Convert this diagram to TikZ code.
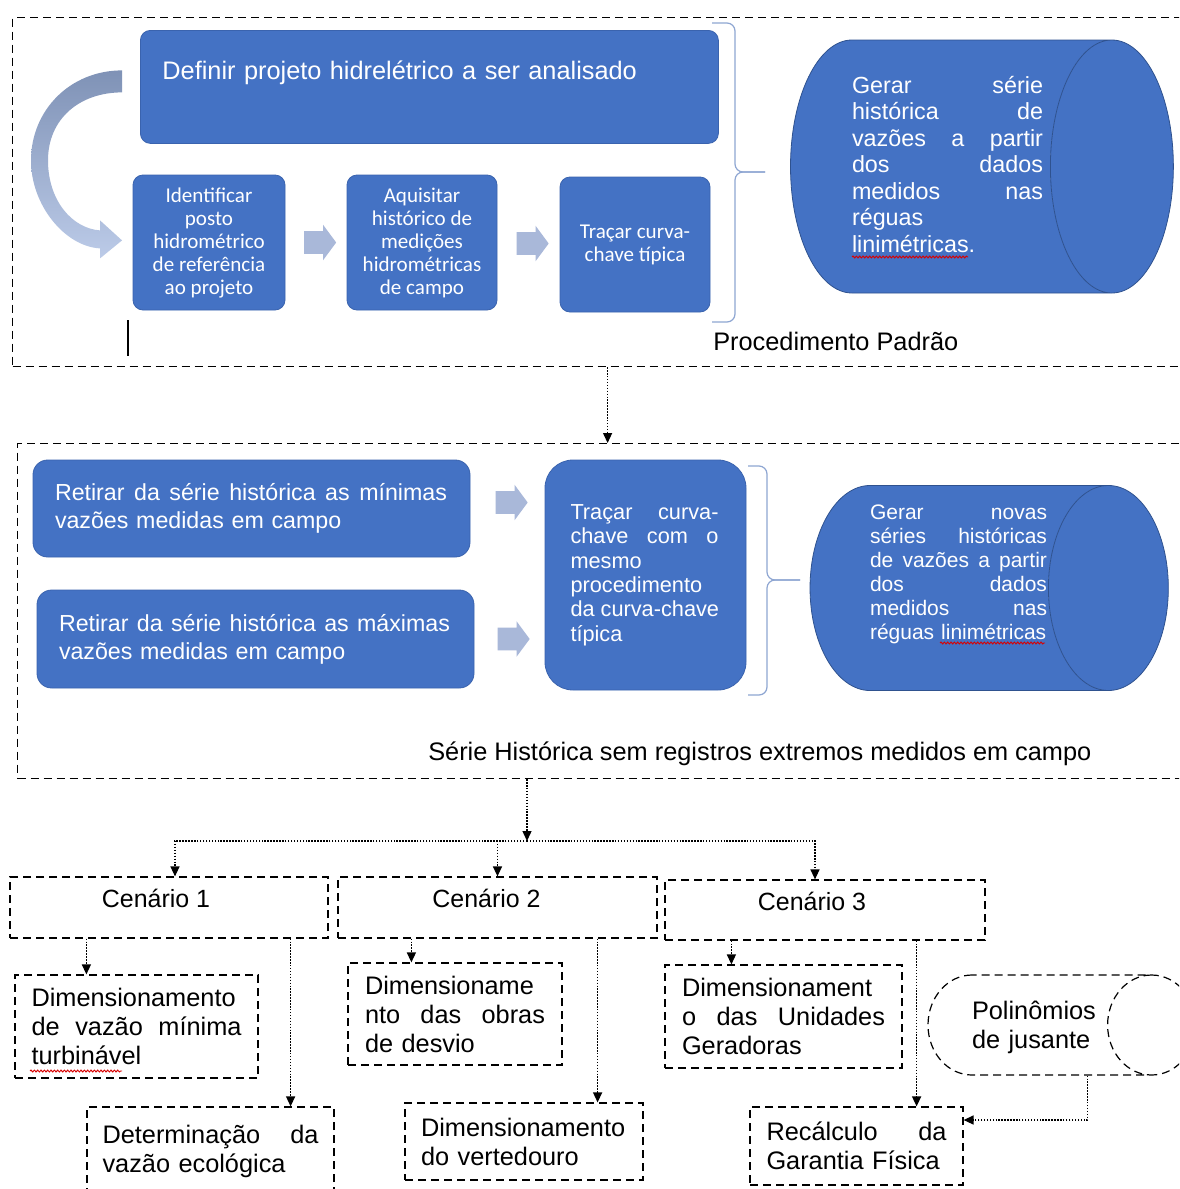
\documentclass[tikz,border=0pt]{standalone}
\usepackage{fontspec}
\setmainfont{Liberation Sans}
\newfontfamily\calibri{Carlito}
\usetikzlibrary{arrows.meta,calc,positioning,shapes.geometric,shapes.arrows,decorations.pathmorphing}
\definecolor{hidroBlue}{HTML}{4472C4}
\definecolor{hidroEdge}{HTML}{3A63AE}
\definecolor{hidroDark}{HTML}{2F528F}
\definecolor{hidroChevron}{HTML}{A9B8D9}
\definecolor{hidroArrowTop}{HTML}{7F92B6}
\definecolor{hidroArrowBot}{HTML}{BCCBE8}
\definecolor{hidroBrace}{HTML}{8EA6D2}
\newdimen\dpx \dpx=0.75pt
% justified line of a given width
\newcommand{\spread}[2]{\leavevmode\hbox to #1{\spaceskip=\fontdimen2\font plus 1fil\relax #2}}
\tikzset{
  flow box/.style={draw=hidroEdge, fill=hidroBlue, text=white,
    rounded corners=7.5pt, inner sep=0pt, line width=0.6pt},
  stage text/.style={font=\calibri\fontsize{15.8}{17.25}\selectfont,
    align=center},
  chevron/.style={single arrow, fill=hidroChevron, draw=none,
    minimum height=24pt, minimum width=24pt, inner xsep=0pt,
    inner ysep=8.25pt, single arrow head extend=4.9pt,
    single arrow tip angle=107},
  series cyl/.style={cylinder, draw=hidroDark, line width=0.6pt,
    cylinder uses custom fill, cylinder body fill=hidroBlue,
    cylinder end fill=hidroBlue, text=white, inner sep=0pt, anchor=text},
  group frame/.style={draw, line width=0.9pt,
    dash pattern=on 6pt off 3.75pt, inner sep=0pt},
  scene box/.style={draw, line width=0.9pt,
    dash pattern=on 6pt off 3.75pt, inner sep=0pt,
    font=\fontsize{19}{21.75}\selectfont},
  scene title/.style={scene box, font=\fontsize{18.7}{21}\selectfont,
    text height=7pt, text depth=7pt},
  link/.style={line width=1pt, dash pattern=on 1.1pt off 1.1pt,
    -{Triangle[length=7.5pt, width=6.75pt]}},
  group brace/.style={draw=hidroBrace, line width=0.9pt,
    rounded corners=6pt},
  group caption/.style={font=\fontsize{19}{22}\selectfont, inner sep=0pt},
  spell mark/.style={draw=red!85!black, line width=0.7pt, decorate,
    decoration={snake, amplitude=0.7pt, segment length=2.5pt}}
}

\begin{document}
\begin{tikzpicture}[x=0.75pt, y=-0.75pt]
  \useasboundingbox (0,0) rectangle (1179,1189);
  \clip (0,0) rectangle (1179,1189);
  \fill[white] (0,0) rectangle (1179,1189);

  % procedimento padrao
  \node[group frame, anchor=north west, minimum width=1190\dpx,
    minimum height=349\dpx] (padrao) at (12,17) {};
  \node[flow box, anchor=north west, text width=534\dpx, inner xsep=22\dpx,
    text height=49\dpx, text depth=64\dpx, align=left,
    font=\fontsize{19}{22}\selectfont] (definir) at (140,30)
    {Definir projeto hidrelétrico a ser analisado};
  \node[flow box, stage text, minimum width=152\dpx, minimum height=135\dpx]
    (ident) at (209,242.5) {Identificar\\posto\\hidrométrico\\de referência\\ao projeto};
  \node[flow box, stage text, minimum width=150\dpx, minimum height=135\dpx]
    (aquis) at (422,242.5) {Aquisitar\\histórico de\\medições\\hidrométricas\\de campo};
  \node[flow box, stage text, minimum width=150\dpx, minimum height=135\dpx]
    (tipica) at (635,244.5) {Traçar curva-\\chave típica};
  \node[chevron] (seta1) at ($(ident.east)!0.5!(aquis.west)$) {};
  \node[chevron] (seta2) at ($(aquis.east)!0.5!(tipica.west)$) {};
  \begin{scope}[shift={($(definir.west)+(-18,-16.5)$)}]
    \shade[top color=hidroArrowTop, bottom color=hidroArrowBot]
      (0,0) .. controls (-52,0) and (-91,40) .. (-91,90)
      .. controls (-91,135) and (-57,176) .. (-22,178)
      -- (-22,188) -- (0,170) -- (-22,150) -- (-22,160)
      .. controls (-50,158) and (-74,130) .. (-74,90)
      .. controls (-74,48) and (-42,22) .. (0,22) -- cycle;
  \end{scope}
  \draw[group brace] (712,23) -- (735,23) -- (735,172) -- (765,172);
  \draw[group brace] (712,322) -- (735,322) -- (735,172) -- (765,172);
  \node[series cyl, aspect=0.486, text width=198\dpx, text height=53\dpx,
    text depth=200\dpx, align=left, font=\fontsize{17.5}{19.9}\selectfont]
    (gerar) at (852,93)
    {\spread{191\dpx}{Gerar série}\\\spread{191\dpx}{histórica de}\\
     \spread{191\dpx}{vazões a partir}\\\spread{191\dpx}{dos dados}\\
     \spread{191\dpx}{medidos nas}\\réguas\\linimétricas.};
  \node[group caption, anchor=base west] (padraoTxt) at (713,350)
    {Procedimento Padrão};
  \draw[line width=0.8pt] (128,320) -- (128,356);

  % serie sem extremos
  \node[group frame, anchor=north west, minimum width=1180\dpx,
    minimum height=335\dpx] (serie) at (17,443) {};
  \draw[link] (padrao.south) -- (serie.north);
  \node[flow box, rounded corners=11pt, minimum height=97\dpx,
    text width=393\dpx, inner xsep=22\dpx, align=left,
    font=\fontsize{17.4}{21}\selectfont] (minimas) at (251.5,508.5)
    {\spread{392\dpx}{Retirar da série histórica as mínimas}\\vazões medidas em campo};
  \node[flow box, rounded corners=11pt, minimum height=98\dpx,
    text width=393\dpx, inner xsep=22\dpx, align=left,
    font=\fontsize{17.4}{21}\selectfont] (maximas) at (255.5,639)
    {\spread{391\dpx}{Retirar da série histórica as máximas}\\vazões medidas em campo};
  \node[flow box, rounded corners=21pt, minimum width=201\dpx,
    minimum height=230\dpx, text width=150\dpx, align=left,
    font=\fontsize{16.3}{18.3}\selectfont] (novaCurva) at (645.5,575)
    {\spread{148\dpx}{Traçar curva-}\\\spread{148\dpx}{chave com o}\\mesmo\\
     procedimento\\\spread{148\dpx}{da curva-chave}\\típica};
  \node[chevron] (seta3) at ($(minimas.east)!0.5!(minimas.east -| novaCurva.west)+(0,-6)$) {};
  \node[chevron] (seta4) at ($(maximas.east)!0.5!(maximas.east -| novaCurva.west)$) {};
  \draw[group brace] (748,466) -- (767,466) -- (767,580) -- (800,580);
  \draw[group brace] (748,695) -- (767,695) -- (767,580) -- (800,580);
  \node[series cyl, aspect=0.585, text width=178\dpx, text height=34\dpx,
    text depth=171\dpx, align=left, font=\fontsize{15.75}{18}\selectfont]
    (novasSeries) at (870,519.5)
    {\spread{177\dpx}{Gerar novas}\\\spread{177\dpx}{séries históricas}\\
     \spread{177\dpx}{de vazões a partir}\\\spread{177\dpx}{dos dados}\\
     \spread{177\dpx}{medidos nas}\\réguas linimétricas};
  \node[group caption, anchor=base west] (serieTxt) at (428,760)
    {Série Histórica sem registros extremos medidos em campo};

  % cenarios
  \coordinate (fork) at (527,841);
  \draw[link] (serie.south -| fork) -- (fork);
  \node[scene title, minimum width=318\dpx, minimum height=61\dpx]
    (cen1) at (169,907.5) {Cenário 1\hspace*{26\dpx}};
  \node[scene title, minimum width=319\dpx, minimum height=61\dpx]
    (cen2) at (497.5,907.5) {Cenário 2\hspace*{22\dpx}};
  \node[scene title, minimum width=320\dpx, minimum height=60\dpx]
    (cen3) at (825,910) {Cenário 3\hspace*{26\dpx}};
  \draw[link] (fork) -| ([xshift=6\dpx]cen1.north);
  \draw[link] (fork) -| ([xshift=-10\dpx]cen3.north);
  \draw[link] (fork -| cen2.north) -- (cen2.north);

  \node[scene box, minimum width=243\dpx, minimum height=103\dpx,
    text width=210\dpx, align=left] (vmin) at (136.5,1026.5)
    {Dimensionamento\\\spread{210\dpx}{de vazão mínima}\\turbinável};
  \node[scene box, minimum width=247\dpx, minimum height=88\dpx,
    text width=216\dpx, align=left] (eco) at (210.5,1151)
    {\spread{216\dpx}{Determinação da}\\vazão ecológica};
  \node[scene box, minimum width=214\dpx, minimum height=102\dpx,
    text width=180\dpx, align=left] (desvio) at (455,1014)
    {Dimensioname\\\spread{180\dpx}{nto das obras}\\de desvio};
  \node[scene box, minimum width=238\dpx, minimum height=77\dpx,
    text width=206\dpx, align=left] (verted) at (524,1141.5)
    {Dimensionamento\\do vertedouro};
  \node[scene box, minimum width=237\dpx, minimum height=103\dpx,
    text width=203\dpx, align=left] (unid) at (783.5,1016.5)
    {Dimensionament\\\spread{203\dpx}{o das Unidades}\\Geradoras};
  \node[scene box, minimum width=213\dpx, minimum height=78\dpx,
    text width=180\dpx, align=left] (garant) at (856.5,1146)
    {\spread{180\dpx}{Recálculo da}\\Garantia Física};
  \node[scene box, cylinder, aspect=0.88, text width=135\dpx,
    text height=44\dpx, text depth=56\dpx, align=left, anchor=text]
    (polin) at (972,1019) {Polinômios\\de jusante};

  \draw[link] ($(cen1.south west)+(77,0)$) coordinate (t1) -- (t1 |- vmin.north);
  \draw[link] ($(cen1.south east)+(-38,0)$) coordinate (t2) -- (t2 |- eco.north);
  \draw[link] ($(cen2.south west)+(74,0)$) coordinate (t3) -- (t3 |- desvio.north);
  \draw[link] ($(cen2.south east)+(-60,0)$) coordinate (t4) -- (t4 |- verted.north);
  \draw[link] ($(cen3.south west)+(67,0)$) coordinate (t5) -- (t5 |- unid.north);
  \draw[link] ($(cen3.south east)+(-69,0)$) coordinate (t6) -- (t6 |- garant.north);
  \draw[link] ($(polin.south)+(48,0)$) |- ($(garant.east)+(0,-26)$);

  % marcas do corretor
  \draw[spell mark] (852,257) -- (968,257);
  \draw[spell mark] (940,643) -- (1045,643);
  \draw[spell mark] (30,1071) -- (122,1071);
\end{tikzpicture}
\end{document}
